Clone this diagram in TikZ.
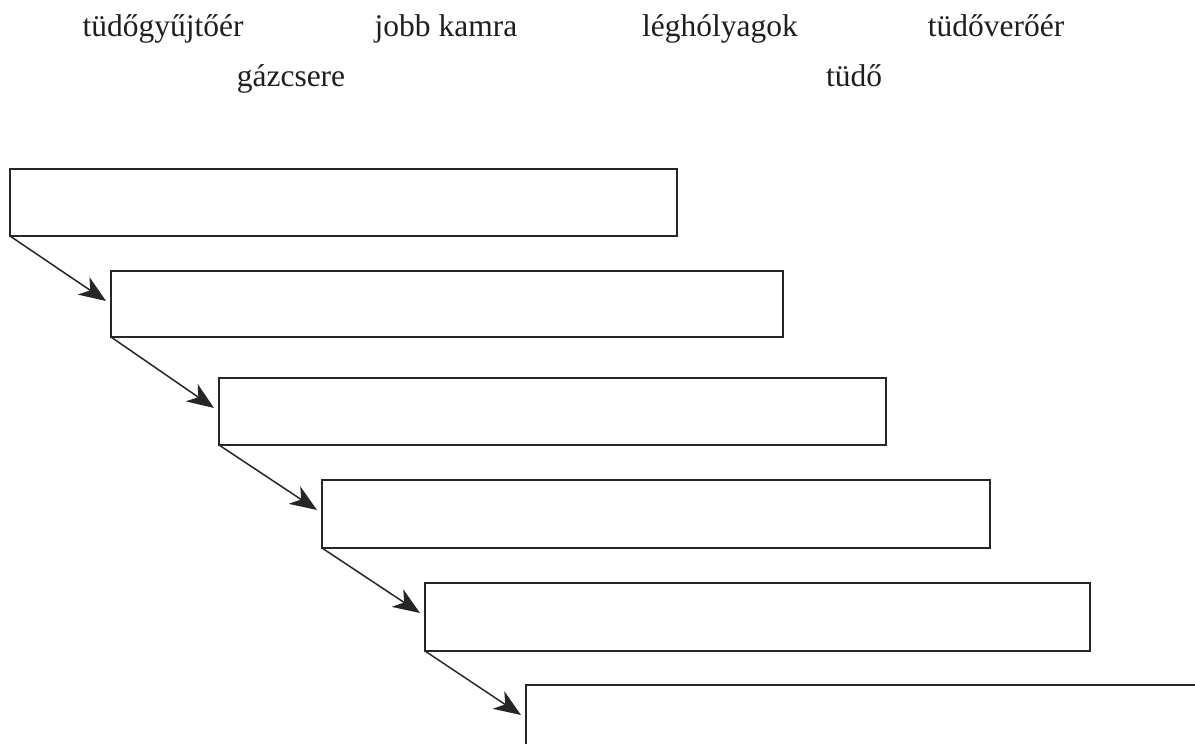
\documentclass[tikz,border=0pt]{standalone}
\usepackage{fontspec}
\setmainfont{Liberation Serif}
\usetikzlibrary{arrows.meta,calc}
\tikzset{
  lbl/.style={font=\fontsize{31.5}{36}\selectfont, anchor=base, inner sep=0pt, text=black!88},
  stepbox/.style={draw=black!85, line width=1.7pt, anchor=north west, inner sep=0pt, outer sep=0pt, rectangle},
  link/.style={draw=black!85, line width=1.5pt, -{Stealth[length=27pt,width=21pt,inset=8pt]}}
}
\begin{document}
\begin{tikzpicture}[x=1pt,y=-1pt]
\useasboundingbox[fill=white] (0,0) rectangle (1195,744);
% labels
\node[lbl] (t1) at (163,36) {tüdőgyűjtőér};
\node[lbl] (t2) at (446,36) {jobb kamra};
\node[lbl] (t3) at (720,36) {léghólyagok};
\node[lbl] (t4) at (996,36) {tüdőverőér};
\node[lbl] (t5) at (291,86) {gázcsere};
\node[lbl] (t6) at (854,86) {tüdő};
% boxes
\node[stepbox, minimum width=667pt, minimum height=67pt] (b1) at (10,169) {};
\node[stepbox, minimum width=672pt, minimum height=66pt] (b2) at (111,271) {};
\node[stepbox, minimum width=667pt, minimum height=67pt] (b3) at (219,378) {};
\node[stepbox, minimum width=668pt, minimum height=68pt] (b4) at (322,480) {};
\node[stepbox, minimum width=665pt, minimum height=68pt] (b5) at (425,583) {};
\node[stepbox, minimum width=700pt, minimum height=68pt] (b6) at (526,685) {};
% connectors
\foreach \a/\b in {b1/b2,b2/b3,b3/b4,b4/b5,b5/b6}{
  \coordinate (\b-in) at ($(\b.north west)+(-5,30)$);
  \draw[link] (\a.south west) -- (\b-in);
}
\end{tikzpicture}
\end{document}
